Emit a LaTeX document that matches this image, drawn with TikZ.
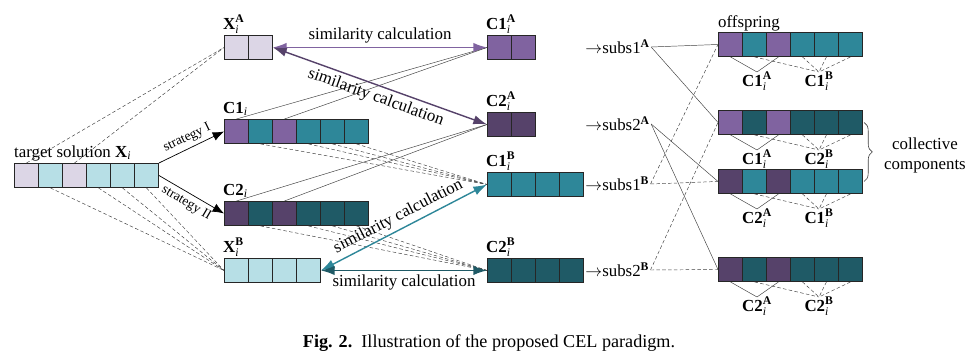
\documentclass[tikz,border=0pt]{standalone}
\usepackage{fontspec}
\setmainfont{Liberation Serif}
\usetikzlibrary{arrows.meta,decorations.pathreplacing}
\definecolor{lav}{RGB}{220,214,230}
\definecolor{cya}{RGB}{183,223,230}
\definecolor{pur}{RGB}{128,99,160}
\definecolor{dpur}{RGB}{86,66,106}
\definecolor{tea}{RGB}{46,135,153}
\definecolor{dtea}{RGB}{31,90,102}
\tikzset{
  cell/.style={draw=black!85,line width=0.8pt,minimum size=0.72cm,inner sep=0pt,anchor=north west},
  lbl/.style={anchor=base west,inner sep=0pt},
  sub/.style={anchor=north,inner sep=0pt},
  link/.style={draw=black!75,line width=0.4pt},
  dlink/.style={draw=black!75,line width=0.4pt,dash pattern=on 3pt off 2pt},
  sim/.style={line width=1.2pt,{Latex[length=4.1mm,width=2.8mm]}-{Latex[length=4.1mm,width=2.8mm]}},
  strat/.style={line width=0.6pt,-{Latex[length=3.4mm,width=2.7mm]}},
  small/.style={font=\fontsize{11.5}{13}\selectfont},
}
\newcommand{\cellrow}[4]{\foreach \col [count=\n] in {#4}
  \node[cell,fill=\col] (#1\n) at ({#2+24*(\n-1)},#3) {};}
\newcommand{\vname}[2]{$\mathbf{#1}_{\mathit{i}}^{\mathbf{#2}}$}

\begin{document}
\begin{tikzpicture}[x=0.03cm,y=-0.03cm,font=\fontsize{14.4}{17}\selectfont]
\useasboundingbox (0,0) rectangle (980,363);
% solutions
\cellrow{t}{14}{163}{lav,cya,lav,cya,cya,cya}
\cellrow{xa}{224}{35}{lav,lav}
\cellrow{cone}{224}{119}{pur,tea,pur,tea,tea,tea}
\cellrow{ctwo}{224}{201}{dpur,dtea,dpur,dtea,dtea,dtea}
\cellrow{xb}{224}{258}{cya,cya,cya,cya}
\cellrow{conea}{487}{35}{pur,pur}
\cellrow{ctwoa}{487}{112}{dpur,dpur}
\cellrow{coneb}{487}{172}{tea,tea,tea,tea}
\cellrow{ctwob}{487}{258}{dtea,dtea,dtea,dtea}
\cellrow{oA}{718}{32}{pur,tea,pur,tea,tea,tea}
\cellrow{oB}{718}{110}{pur,dtea,pur,dtea,dtea,dtea}
\cellrow{oC}{718}{169}{dpur,tea,dpur,tea,tea,tea}
\cellrow{oD}{718}{257}{dpur,dtea,dpur,dtea,dtea,dtea}
% names
\node[lbl] (lt) at (14,157) {target solution $\mathbf{X}_{\mathit{i}}$};
\node[lbl] (lxa) at (223,29) {\vname{X}{A}};
\node[lbl] (lcone) at (223,113) {$\mathbf{C1}_{\mathit{i}}$};
\node[lbl] (lctwo) at (223,195) {$\mathbf{C2}_{\mathit{i}}$};
\node[lbl] (lxb) at (223,252) {\vname{X}{B}};
\node[lbl] (lconea) at (486,29) {\vname{C1}{A}};
\node[lbl] (lctwoa) at (486,106) {\vname{C2}{A}};
\node[lbl] (lconeb) at (486,166) {\vname{C1}{B}};
\node[lbl] (lctwob) at (486,252) {\vname{C2}{B}};
\node[lbl] (loff) at (718,27) {offspring};
\node[anchor=west,inner sep=1pt] (sA1) at (584,47) {$\rightarrow$subs1$^{\mathbf{A}}$};
\node[anchor=west,inner sep=1pt] (sA2) at (584,124) {$\rightarrow$subs2$^{\mathbf{A}}$};
\node[anchor=west,inner sep=1pt] (sB1) at (584,184) {$\rightarrow$subs1$^{\mathbf{B}}$};
\node[anchor=west,inner sep=1pt] (sB2) at (584,270) {$\rightarrow$subs2$^{\mathbf{B}}$};
\node[sub] (oA-a) at (757,72) {\vname{C1}{A}};
\node[sub] (oA-b) at (819,72) {\vname{C1}{B}};
\node[sub] (oB-a) at (757,150) {\vname{C1}{A}};
\node[sub] (oB-b) at (819,150) {\vname{C2}{B}};
\node[sub] (oC-a) at (757,209) {\vname{C2}{A}};
\node[sub] (oC-b) at (819,209) {\vname{C1}{B}};
\node[sub] (oD-a) at (757,297) {\vname{C2}{A}};
\node[sub] (oD-b) at (819,297) {\vname{C2}{B}};
\node[align=center] (coll) at (925,155) {collective\\components};
\node[font=\fontsize{15.5}{18}\selectfont] (cap) at (489,343) {\textbf{Fig. 2.}\enspace Illustration of the proposed CEL paradigm.};
% decomposition
\foreach \k in {1,3} \draw[dlink] (t\k.north) -- (xa1.west);
\foreach \k in {2,4,5,6} \draw[dlink] (t\k.south) -- (xb1.west);
\draw[strat] (t6.north east) -- node[sloped,above,small] {strategy I} (cone1.west);
\draw[strat] (t6.east) -- node[sloped,below,small] {strategy II} (ctwo1.west);
\foreach \k in {1,3} \draw[link] (cone\k.north) -- (conea1.west);
\foreach \k in {2,4,5,6} \draw[dlink] (cone\k.south) -- (coneb1.west);
\foreach \k in {1,3} \draw[link] (ctwo\k.north) -- (ctwoa1.west);
\foreach \k in {2,4,5,6} \draw[dlink] (ctwo\k.south) -- (ctwob1.west);
% similarity
\draw[sim,draw=pur] (xa2.east) -- node[above] {similarity calculation} (conea1.west);
\draw[sim,draw=dpur] (xa2.east) -- node[sloped,below] {similarity calculation} (ctwoa1.west);
\draw[sim,draw=tea] (xb4.east) -- node[sloped,above] {similarity calculation} (coneb1.west);
\draw[sim,draw=dtea] (xb4.east) -- node[below] {similarity calculation} (ctwob1.west);
% recombination
\draw[link] (sA1.east) -- (oA1.west);
\draw[link] (sA1.east) -- (oB1.west);
\draw[link] (sA2.east) -- (oC1.west);
\draw[link] (sA2.east) -- (oD1.west);
\draw[dlink] (sB1.east) -- (oC1.west);
\draw[dlink] (sB1.east) -- (oA1.west);
\draw[dlink] (sB2.east) -- (oD1.west);
\draw[dlink] (sB2.east) -- (oB1.west);
\foreach \row in {A,B,C,D} {
  \foreach \k in {1,3} \draw[link] (o\row\k.south) -- (o\row-a.north);
  \foreach \k in {2,4,5,6} \draw[dlink] (o\row\k.south) -- (o\row-b.north);
}
\draw[decorate,decoration={brace,amplitude=7pt,raise=1pt},draw=black!75,line width=0.5pt] (oB6.east) -- (oC6.east);
\end{tikzpicture}
\end{document}
